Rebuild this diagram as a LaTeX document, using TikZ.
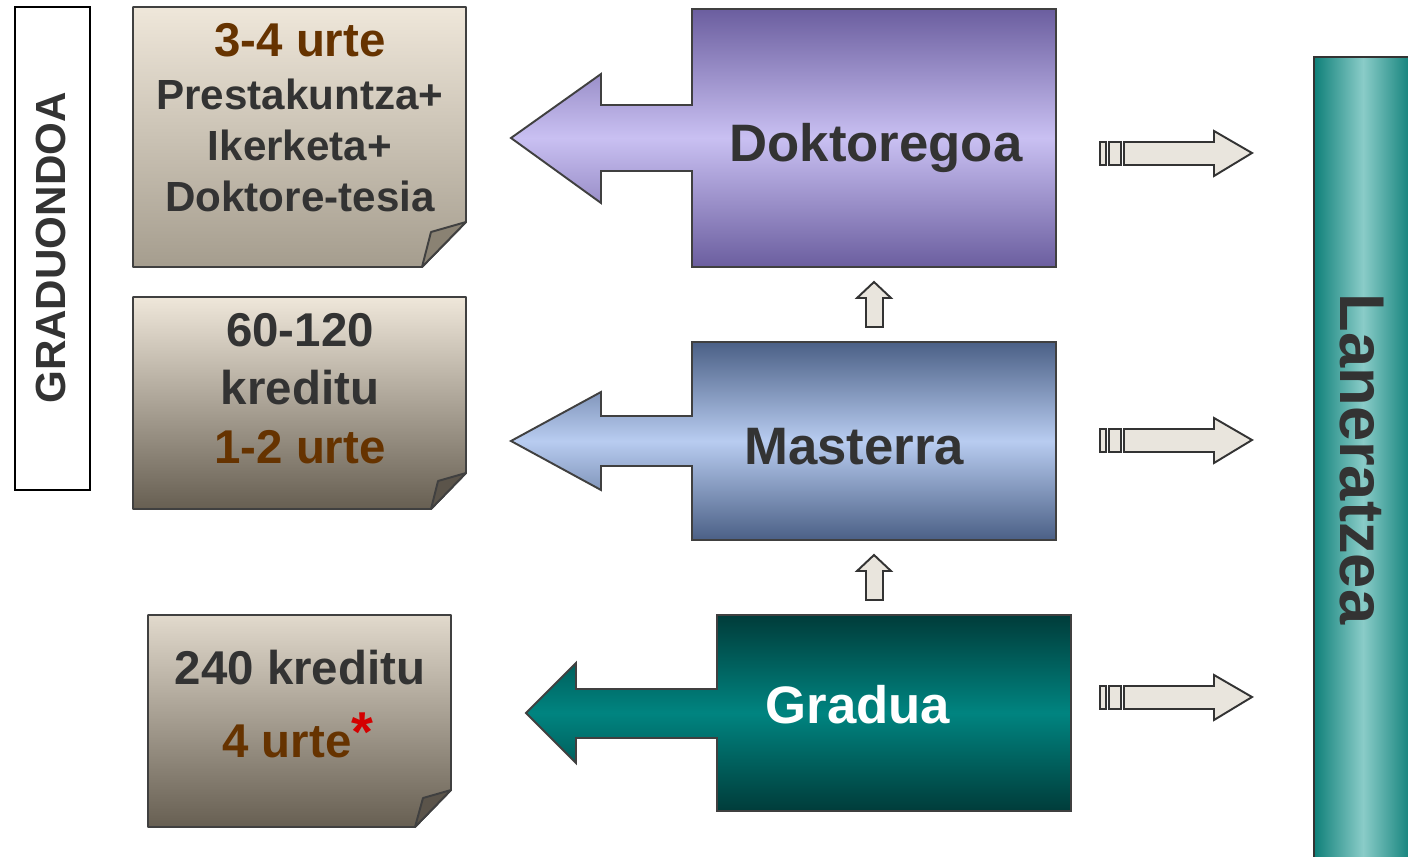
\documentclass[tikz,border=0pt]{standalone}
\usepackage{fontspec}
\setmainfont{Liberation Sans}
\usepackage{tikz}
\usetikzlibrary{positioning}

\definecolor{txt}{HTML}{333333}
\definecolor{urte}{HTML}{663300}
\definecolor{star}{HTML}{D40000}
\definecolor{edge}{HTML}{404040}
\definecolor{papertop}{HTML}{EFE7DA}
\definecolor{paperbotA}{HTML}{A59D8E}
\definecolor{paperbotB}{HTML}{675F52}
\definecolor{foldA}{HTML}{8A8273}
\definecolor{foldB}{HTML}{5B544A}
\definecolor{purpdark}{HTML}{6B5E9F}
\definecolor{purplight}{HTML}{C9C0F2}
\definecolor{bluedark}{HTML}{4B6086}
\definecolor{bluelight}{HTML}{B8CCF0}
\definecolor{tealdark}{HTML}{003C3A}
\definecolor{tealmid}{HTML}{008480}
\definecolor{barside}{HTML}{0F8079}
\definecolor{barlight}{HTML}{8ACCC8}
\definecolor{arrowfill}{HTML}{E9E5DD}

\tikzstyle{paper} = [draw=edge, line width=1.1pt, line join=round]
\tikzstyle{fold} = [draw=edge, line width=1.1pt, line join=round]
\tikzstyle{bigarrow} = [draw=edge, line width=1.1pt, line join=miter]
\tikzstyle{hint} = [draw=txt, fill=arrowfill, line width=1.1pt, line join=miter]
\tikzstyle{linetext} = [anchor=base, text=txt, inner sep=0pt,
  font=\bfseries\fontsize{24}{29}\selectfont]
\tikzstyle{bigline} = [linetext, font=\bfseries\fontsize{27}{32}\selectfont]
\tikzstyle{stagetext} = [text=txt, inner sep=0pt,
  font=\bfseries\fontsize{30}{36}\selectfont]

\begin{document}
\begin{tikzpicture}[x=0.02cm, y=-0.02cm]

      \useasboundingbox (0,0) rectangle (1408,857);

      %
      % Left label
      %

      \draw [line width=1.1pt, fill=white] (15,7) rectangle (90,490);
      \node [rotate=90, text=txt, inner sep=0pt,
        font=\bfseries\fontsize{24}{29}\selectfont] (grad) at (51,248) {GRADUONDOA};

      %
      % Notes
      %

      \shade [paper, top color=papertop, bottom color=paperbotA]
        (133,7) -- (466,7) -- (466,222) -- (422,267) -- (133,267) -- cycle;
      \filldraw [fold, fill=foldA] (466,222) -- (431,232) -- (422,267) -- cycle;

      \shade [paper, top color=papertop, bottom color=paperbotB]
        (133,297) -- (466,297) -- (466,473) -- (431,509) -- (133,509) -- cycle;
      \filldraw [fold, fill=foldB] (466,473) -- (438,481) -- (431,509) -- cycle;

      \shade [paper, top color=papertop!90!paperbotB, bottom color=paperbotB]
        (148,615) -- (451,615) -- (451,790) -- (415,827) -- (148,827) -- cycle;
      \filldraw [fold, fill=foldB] (451,790) -- (423,798) -- (415,827) -- cycle;

      \node [bigline] (dur3) at (300,57) {\textcolor{urte}{3-4 urte}};
      \node [linetext] (prest) at (300,110) {Prestakuntza+};
      \node [linetext] (iker) at (300,161) {Ikerketa+};
      \node [linetext] (tesia) at (300,212) {Doktore-tesia};

      \node [bigline] (kred2) at (300,347) {60-120};
      \node [bigline] (kred2b) at (300,405) {kreditu};
      \node [bigline] (dur2) at (300,463) {\textcolor{urte}{1-2 urte}};

      \node [bigline] (kred1) at (300,684) {240 kreditu};
      \node [bigline] (dur1) at (298,757) {\textcolor{urte}{4 urte}{\fontsize{32}{38}\selectfont\textcolor{star}{\raisebox{3pt}{*}}}};

      %
      % Stages
      %

      \shade [bigarrow, top color=purpdark, bottom color=purpdark, middle color=purplight]
        (692,9) -- (1056,9) -- (1056,267) -- (692,267) -- (692,171) -- (601,171)
        -- (601,203) -- (511,138) -- (601,74) -- (601,105) -- (692,105) -- cycle;
      \node [stagetext] (doktore) at (876,148) {Doktoregoa};

      \shade [bigarrow, top color=bluedark, bottom color=bluedark, middle color=bluelight]
        (692,342) -- (1056,342) -- (1056,540) -- (692,540) -- (692,466) -- (601,466)
        -- (601,490) -- (511,441) -- (601,392) -- (601,416) -- (692,416) -- cycle;
      \node [stagetext] (master) at (854,447) {Masterra};

      \shade [bigarrow, top color=tealdark, bottom color=tealdark, middle color=tealmid]
        (717,615) -- (1071,615) -- (1071,811) -- (717,811) -- (717,738) -- (576,738)
        -- (576,763) -- (526,713) -- (576,663) -- (576,689) -- (717,689) -- cycle;
      \node [stagetext, text=white] (gradua) at (858,705) {Gradua};

      %
      % Work bar
      %

      \shade [draw=txt, line width=1.4pt, left color=barside, right color=barside, middle color=barlight]
        (1314,57) rectangle (1412,862);
      \node [rotate=-90, text=txt, inner sep=0pt,
        font=\bfseries\fontsize{36}{43}\selectfont] (lan) at (1362,459) {Laneratzea};

      %
      % Small arrows
      %

      \foreach \y in {282,555}
        \path [hint] (874,\y) -- (891,\y+16) -- (883,\y+16) -- (883,\y+45)
          -- (866,\y+45) -- (866,\y+16) -- (857,\y+16) -- cycle;

      \foreach \y in {153,440,697} {
        \path [hint] (1100,\y-11) rectangle (1106,\y+12);
        \path [hint] (1109,\y-11) rectangle (1121,\y+12);
        \path [hint] (1124,\y-11) -- (1214,\y-11) -- (1214,\y-22) -- (1252,\y)
          -- (1214,\y+23) -- (1214,\y+12) -- (1124,\y+12) -- cycle;
      }

    \end{tikzpicture}
\end{document}
